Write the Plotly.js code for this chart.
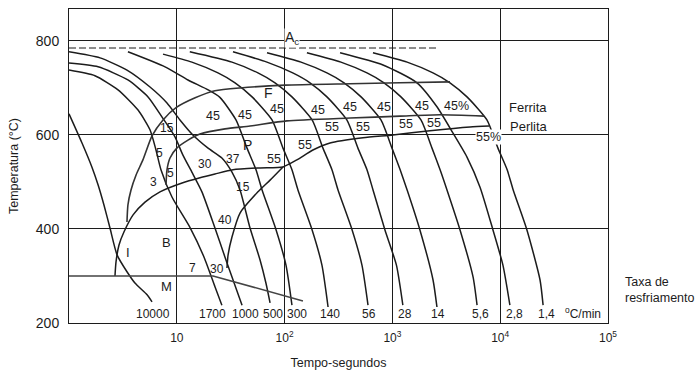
<!DOCTYPE html>
<html><head><meta charset="utf-8">
<script src="https://cdn.plot.ly/plotly-3.0.1.min.js"></script>
<style>html,body{margin:0;padding:0;background:#fff}#chart{width:699px;height:375px}</style>
</head><body><div id="chart"></div>
<script>
// ---- cooling curves (time in s, temperature in °C) ----
const t10000 = [1, 1.32, 1.63, 1.86, 2.11, 2.40, 2.79, 3.45, 4.09, 5.30, 5.89];
const T10000 = [645, 583, 532, 494, 451, 402, 345, 309, 285, 260, 245];
const t1700 = [1, 1.74, 2.85, 4.37, 5.64, 6.41, 7.13, 9.02, 13.2, 17.9, 22.6, 26.2];
const T1700 = [738, 726, 696, 653, 611, 568, 526, 468, 404, 340, 277, 238];
const t1000 = [1, 1.86, 3.52, 5.41, 7.30, 9.62, 11.4, 13.8, 17.1, 22.6, 28.0, 33.2, 40.3];
const T1000 = [753, 745, 717, 681, 638, 596, 557, 521, 479, 402, 340, 292, 238];
const t500 = [1, 1.94, 3.45, 5.64, 8.11, 10.7, 14.1, 19.5, 26.2, 32.5, 38.6, 47.8, 59.2, 67.1, 73.3];
const T500 = [777, 764, 738, 702, 668, 632, 600, 572, 551, 521, 483, 402, 334, 285, 243];
const t300 = [3.52, 7.78, 12.7, 19.5, 25.1, 35.4, 44.8, 54.3, 61.8, 83.4, 103, 117];
const T300 = [777, 745, 717, 696, 680, 632, 572, 526, 483, 398, 323, 238];
const t140 = [7.45, 13.8, 24.1, 34.7, 49.9, 76.4, 96.6, 117, 133, 180, 222, 253];
const T140 = [772, 755, 732, 711, 681, 632, 572, 526, 483, 398, 323, 234];
const t56 = [13.2, 32.5, 56.6, 81.5, 117, 180, 227, 275, 313, 423, 522, 594];
const T56 = [777, 755, 732, 711, 681, 632, 572, 526, 483, 398, 323, 238];
const t28 = [33.2, 68.6, 119, 172, 247, 378, 479, 581, 661, 853, 1090, 1250];
const T28 = [777, 755, 732, 711, 681, 632, 572, 526, 483, 398, 323, 238];
const t14 = [68.7, 142, 247, 356, 512, 783, 991, 1180, 1370, 1800, 2380, 2590];
const T14 = [775, 755, 732, 711, 681, 632, 572, 526, 483, 398, 292, 234];
const t5_6 = [161, 333, 581, 836, 1200, 1840, 2330, 2770, 3210, 4240, 5600, 6100];
const T5_6 = [775, 755, 732, 711, 681, 632, 572, 526, 483, 398, 298, 238];
const t2_8 = [327, 818, 1690, 2590, 3650, 4920, 6500, 8570, 10600, 12300];
const T2_8 = [775, 749, 711, 660, 604, 553, 489, 398, 323, 238];
const t1_4 = [660, 1370, 2380, 3420, 4920, 7530, 9530, 11600, 13200, 17700, 23400, 25000];
const T1_4 = [775, 755, 732, 711, 681, 632, 572, 526, 483, 398, 292, 238];

// ---- transformation boundaries ----
const tFs = [3.45, 3.52, 3.76, 4.19, 4.85, 5.89, 7.45, 9.84, 14.8, 22.6, 38.6, 101, 405, 1180, 3420];
const TFs = [415, 451, 483, 515, 547, 598, 632, 658, 679, 694, 700, 706, 709, 711, 713];
const tPs = [7.94, 8.11, 8.65, 10.0, 12.7, 16.4, 28.0, 47.8, 105, 405, 1180, 2770, 7080];
const TPs = [494, 526, 551, 572, 589, 602, 613, 619, 630, 636, 640, 643, 640];
const tPf = [2.67, 2.73, 2.91, 3.24, 3.93, 5.07, 6.98, 11.2, 16.4, 22.6, 33.2, 59.2, 96.6, 130, 183, 264, 533, 1010, 2230, 5250, 7870];
const TPf = [300, 330, 366, 394, 430, 457, 479, 498, 509, 517, 526, 530, 532, 547, 568, 583, 594, 600, 609, 617, 619];
const tBf = [29.2, 29.9, 32.5, 38.6, 56.6, 73.3, 96.6];
const TBf = [317, 345, 383, 434, 479, 504, 532];
const tMs = [1, 21.7, 148];
const TMs = [300, 300, 247];
const tAc = [1, 2650];
const TAc = [785, 785];

// ---- labels ----
const rateLabels = ['10000', '1700', '1000', '500', '300', '140', '56', '28', '14', '5,6', '2,8', '1,4'];
const xTickVals = [10, 100, 1000, 10000, 100000];
const xTickText = ['10', '10<sup>2</sup>', '10<sup>3</sup>', '10<sup>4</sup>', '10<sup>5</sup>'];
const yTickVals = [200, 400, 600, 800];

const INK = '#1c1c1c';
const FONT = 'Liberation Sans, Arial, sans-serif';

const cooling = [[t10000,T10000],[t1700,T1700],[t1000,T1000],[t500,T500],[t300,T300],[t140,T140],
  [t56,T56],[t28,T28],[t14,T14],[t5_6,T5_6],[t2_8,T2_8],[t1_4,T1_4]];

const data = [];
cooling.forEach(([x,y]) => data.push({type:'scatter', mode:'lines', x:x, y:y, hoverinfo:'skip',
  line:{color:INK, width:1.5, shape:'spline', smoothing:0.6}}));
data.push({type:'scatter', mode:'lines', x:tFs, y:TFs, hoverinfo:'skip', line:{color:'#333', width:1.6, shape:'spline', smoothing:0.6}});
data.push({type:'scatter', mode:'lines', x:tPs, y:TPs, hoverinfo:'skip', line:{color:'#333', width:1.6, shape:'spline', smoothing:0.6}});
data.push({type:'scatter', mode:'lines', x:tPf, y:TPf, hoverinfo:'skip', line:{color:INK, width:1.5, shape:'spline', smoothing:0.6}});
data.push({type:'scatter', mode:'lines', x:tBf, y:TBf, hoverinfo:'skip', line:{color:INK, width:1.5, shape:'spline', smoothing:0.6}});
data.push({type:'scatter', mode:'lines', x:tMs, y:TMs, hoverinfo:'skip', line:{color:'#444', width:1.5}});
data.push({type:'scatter', mode:'lines', x:tAc, y:TAc, hoverinfo:'skip', line:{color:INK, width:1, dash:'7px,3px'}});

const ann = [];
function lab(text, lx, y, size, extra) {
  ann.push(Object.assign({text:text, x:lx, y:y, xref:'x', yref:'y', showarrow:false,
    font:{family:FONT, size:size||12, color:INK}}, extra||{}));
}
lab('F', 1.846, 689, 14); lab('P', 1.660, 579, 14);
[[1.336,640],[1.633,643],[1.929,655],[2.310,653],[2.607,660],[2.922,660],[3.275,662]].forEach(p=>lab('45',p[0],p[1],12.5));
lab('45%', 3.590, 662, 12.5);
[[2.440,617],[2.727,617],[3.126,623],[3.386,626],[2.189,579],[1.902,549]].forEach(p=>lab('55',p[0],p[1],12.5));
lab('55%', 3.887, 596, 12.5, {bgcolor:'#fff', borderpad:0});
lab('15',0.909,615); lab('5',0.844,562); lab('5',0.946,519); lab('3',0.788,500);
lab('30',1.262,538); lab('37',1.521,549); lab('15',1.614,489); lab('40',1.447,419);
lab('30',1.373,315); lab('7',1.150,317); lab('B',0.909,372,13); lab('I',0.547,351,13); lab('M',0.909,277,13);
const rateX = [0.779,1.327,1.633,1.892,2.115,2.421,2.783,3.117,3.423,3.813,4.137,4.434];
rateLabels.forEach((r,i)=>lab(r, rateX[i], 219, 12));
lab('<sup>o</sup>C/min', 4.768, 221, 12);
lab('A<sub>c</sub>', 2.069, 806, 14, {bgcolor:'#fff', borderpad:0});
lab('Ferrita', 4.063, 658, 13, {xanchor:'left'});
lab('Perlita', 4.073, 617, 13, {xanchor:'left'});
lab('Taxa de<br>resfriamento', 1.028, 0.0525, 12.5, {xref:'paper', yref:'paper', xanchor:'left', align:'left'});

const layout = {
  width:699, height:375, margin:{l:69, r:91, t:9, b:52},
  paper_bgcolor:'#fff', plot_bgcolor:'#fff', showlegend:false, hovermode:false,
  font:{family:FONT, color:INK},
  xaxis:{type:'log', range:[0,5], tickvals:xTickVals, ticktext:xTickText, showgrid:true,
    gridcolor:INK, gridwidth:1, showline:true, mirror:true, linecolor:INK, linewidth:1,
    ticks:'', zeroline:false, ticklabelstandoff:4, tickfont:{size:12, family:FONT, color:INK},
    title:{text:'Tempo-segundos', font:{size:12.5, family:FONT, color:INK}, standoff:13}},
  yaxis:{range:[200,868], tickvals:yTickVals, showgrid:true, gridcolor:INK, gridwidth:1,
    showline:true, mirror:true, linecolor:INK, linewidth:1, ticks:'', zeroline:false,
    ticklabelstandoff:6, tickfont:{size:14, family:FONT, color:INK},
    title:{text:'Temperatura (°C)', font:{size:12.5, family:FONT, color:INK}, standoff:14}},
  annotations: ann
};
Plotly.newPlot('chart', data, layout, {staticPlot:true, displayModeBar:false});
</script></body></html>
